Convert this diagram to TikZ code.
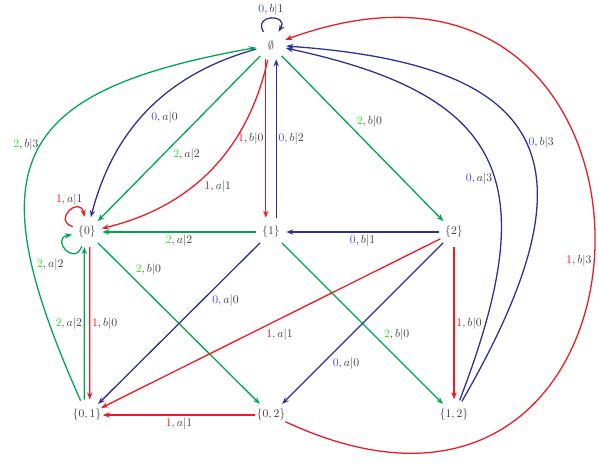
\documentclass[tikz,border=0pt]{standalone}
\usepackage{amsmath,amssymb}
\usetikzlibrary{arrows.meta}
\definecolor{cb}{RGB}{46,49,146}
\definecolor{cg}{RGB}{0,166,81}
\definecolor{cr}{RGB}{237,28,36}
\definecolor{db}{RGB}{70,70,255}
\definecolor{dg}{RGB}{40,230,40}
\definecolor{dr}{RGB}{255,20,20}
\newcommand{\tr}[3]{$\textcolor{#1}{#2},#3$}

\begin{document}
\begin{tikzpicture}[x=0.03cm,y=0.03cm,>={Stealth[length=6pt,width=4.5pt]},
	st/.style={circle,inner sep=0pt,minimum size=0.9cm,text=black!75},
	lb/.style={text=black!75,inner sep=1.5pt},
	eb/.style={->,draw=cb,line width=1.1pt},
	eg/.style={->,draw=cg,line width=1.1pt},
	er/.style={->,draw=cr,line width=1.1pt}]
	\useasboundingbox (0,0) rectangle (598,464);
	% states
	\node[st] (e) at (271,419) {$\emptyset$};
	\node[st] (n0) at (87,232) {$\{0\}$};
	\node[st] (n1) at (271,232) {$\{1\}$};
	\node[st] (n2) at (454,232) {$\{2\}$};
	\node[st] (n01) at (87,49) {$\{0,1\}$};
	\node[st] (n02) at (271,49) {$\{0,2\}$};
	\node[st] (n12) at (454,49) {$\{1,2\}$};
	% from the empty set
	\draw[eb] (e) to[out=120,in=60,looseness=3.5] node[lb,above] {\tr{db}{0}{b|1}} (e);
	\draw[eb] (e) to[bend right=30] node[lb,pos=.5,anchor=north west] {\tr{db}{0}{a|0}} (n0);
	\draw[eg] (e) -- node[lb,pos=.55,anchor=north west] {\tr{dg}{2}{a|2}} (n0);
	\draw[er] (e) to[bend left=32] node[lb,pos=.55,anchor=north west] {\tr{dr}{1}{a|1}} (n0);
	\draw[er] (e.250) -- node[lb,anchor=east] {\tr{dr}{1}{b|0}} (n1.110);
	\draw[eb] (n1.70) -- node[lb,anchor=west] {\tr{db}{0}{b|2}} (e.290);
	\draw[eg] (e) -- node[lb,pos=.45,anchor=south west] {\tr{dg}{2}{b|0}} (n2);
	% back to the empty set
	\draw[eg] (n01) to[out=114,in=190,looseness=1.65] node[lb,pos=.53,anchor=east] {\tr{dg}{2}{b|3}} (e);
	\draw[eb] (n12) to[out=69,in=-12,looseness=1.5] node[lb,pos=.45,anchor=east] {\tr{db}{0}{a|3}} (e);
	\draw[eb] (n12) to[out=60,in=-4,looseness=1.75] node[lb,pos=.5,anchor=west] {\tr{db}{0}{b|3}} (e);
	\draw[er] (n02) to[out=-25,in=20,looseness=3] node[lb,pos=.48,anchor=east] {\tr{dr}{1}{b|3}} (e);
	% around {0}
	\draw[er] (n0) to[out=160,in=100,looseness=3.7] node[lb,above=3pt] {\tr{dr}{1}{a|1}} (n0);
	\draw[eg] (n0) to[out=250,in=190,looseness=3.7] node[lb,below left,yshift=-6pt] {\tr{dg}{2}{a|2}} (n0);
	\draw[eg] (n1) -- node[lb,below] {\tr{dg}{2}{a|2}} (n0);
	\draw[eg] (n0) -- node[lb,pos=.22,anchor=south west] {\tr{dg}{2}{b|0}} (n02);
	\draw[eg] (n01.100) -- node[lb,anchor=east] {\tr{dg}{2}{a|2}} (n0.260);
	\draw[er] (n0.-80) -- node[lb,anchor=west] {\tr{dr}{1}{b|0}} (n01.80);
	% from {1} and {2}
	\draw[eb] (n1) -- node[lb,pos=.31,anchor=north west] {\tr{db}{0}{a|0}} (n01);
	\draw[eg] (n1) -- node[lb,pos=.62,anchor=south west] {\tr{dg}{2}{b|0}} (n12);
	\draw[eb] (n2) -- node[lb,below] {\tr{db}{0}{b|1}} (n1);
	\draw[er] (n2) -- node[lb,pos=.52,anchor=north west] {\tr{dr}{1}{a|1}} (n01);
	\draw[eb] (n2) -- node[lb,pos=.7,anchor=north west] {\tr{db}{0}{a|0}} (n02);
	\draw[er] (n2) -- node[lb,anchor=west] {\tr{dr}{1}{b|0}} (n12);
	\draw[er] (n02) -- node[lb,below] {\tr{dr}{1}{a|1}} (n01);
\end{tikzpicture}
\end{document}
